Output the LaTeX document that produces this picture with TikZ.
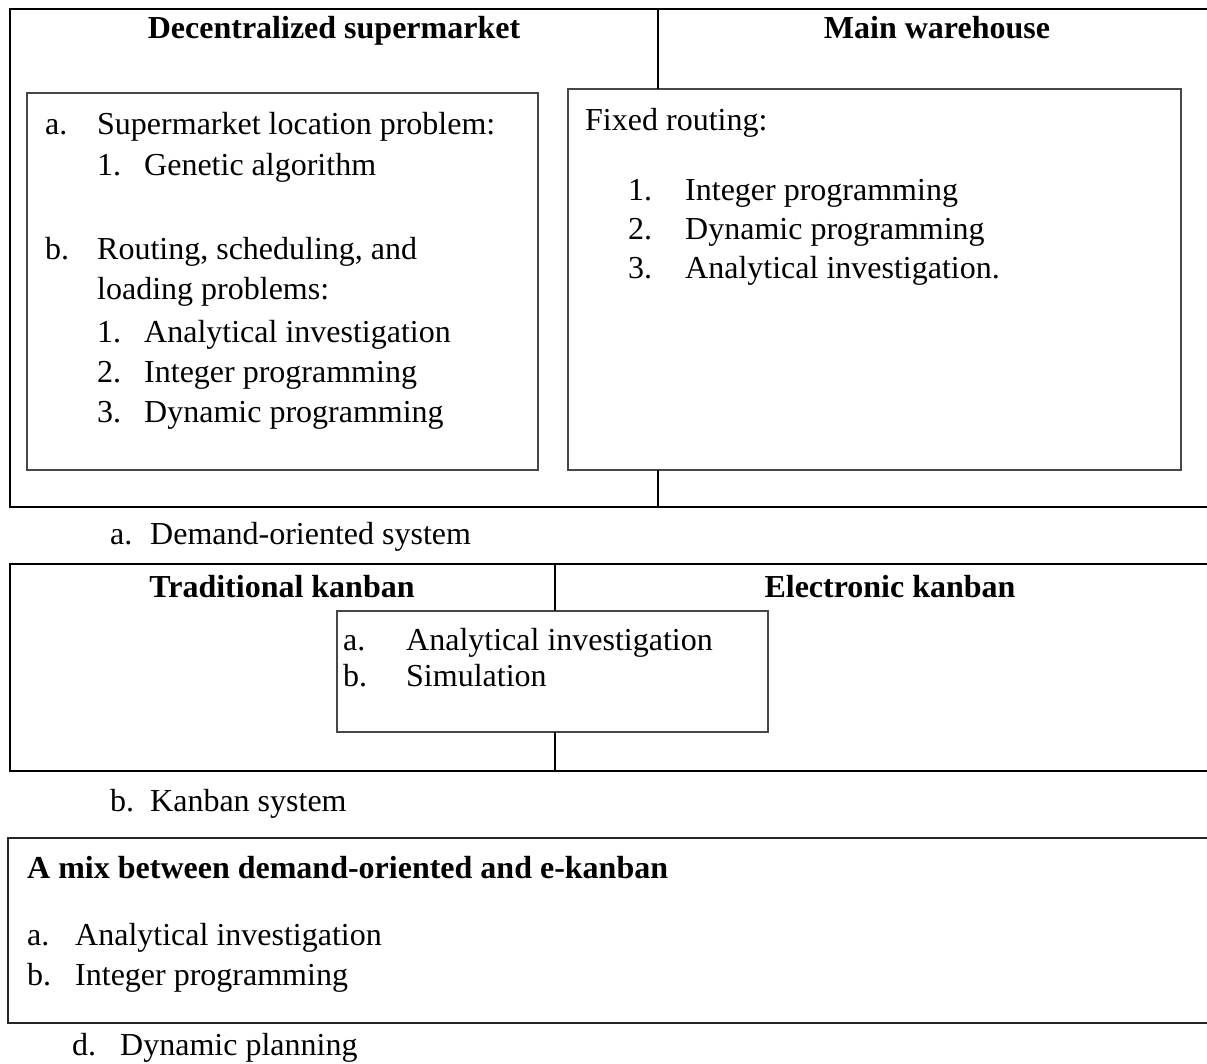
\documentclass[tikz,border=0pt]{standalone}
\usepackage{fontspec}
\setmainfont{Liberation Serif}
\begin{document}
\begin{tikzpicture}[x=1pt,y=-1pt,
  outer/.style={line width=2.4pt,black},
  innerbox/.style={line width=1.4pt,black!72},
  lowerbox/.style={line width=1.8pt,black!85},
  txt/.style={anchor=base west,inner sep=0pt,font=\fontsize{32}{38}\selectfont},
  head/.style={anchor=base,inner sep=0pt,font=\fontsize{32}{38}\selectfont\bfseries},
  headl/.style={anchor=base west,inner sep=0pt,font=\fontsize{32}{38}\selectfont\bfseries}]
\useasboundingbox (0,0) rectangle (1207,1064);
\clip (0,0) rectangle (1207,1064);

% ---------- demand-oriented system ----------
\draw[outer] (1220,9) -| (10,507) -- (1220,507);
\coordinate (dtop) at (658,9);
\coordinate (dbot) at (658,507);
\draw[innerbox] (27,93) rectangle (538,470);
\draw[innerbox] (568,89) rectangle (1181,470);
\coordinate (rtop) at (658,89);
\coordinate (rbot) at (658,470);
\draw[outer] (dtop) -- (rtop);
\draw[outer] (rbot) -- (dbot);

\node[head] (h1) at (334,39) {Decentralized supermarket};
\node[head] (h2) at (937,39) {Main warehouse};

\node[txt] (la) at (45,135) {a.};
\node[txt] (lat) at (97,135) {Supermarket location problem:};
\node[txt] (la1) at (97,176) {1.};
\node[txt] (la1t) at (144,176) {Genetic algorithm};
\node[txt] (lb) at (45,260) {b.};
\node[txt] (lbt) at (97,260) {Routing, scheduling, and};
\node[txt] (lbt2) at (97,300) {loading problems:};
\node[txt] (lb1) at (97,343) {1.};
\node[txt] (lb1t) at (144,343) {Analytical investigation};
\node[txt] (lb2) at (97,382) {2.};
\node[txt] (lb2t) at (144,382) {Integer programming};
\node[txt] (lb3) at (97,422) {3.};
\node[txt] (lb3t) at (144,422) {Dynamic programming};

\node[txt] (rf) at (585,131) {Fixed routing:};
\node[txt] (r1) at (628,201) {1.};
\node[txt] (r1t) at (685,201) {Integer programming};
\node[txt] (r2) at (628,240) {2.};
\node[txt] (r2t) at (685,240) {Dynamic programming};
\node[txt] (r3) at (628,279) {3.};
\node[txt] (r3t) at (685,279) {Analytical investigation.};

\node[txt] (ca) at (110,544) {a.};
\node[txt] (cat) at (150,544) {Demand-oriented system};

% ---------- kanban system ----------
\draw[outer] (1220,564) -| (10,771) -- (1220,771);
\draw[innerbox] (337,611) rectangle (768,732);
\coordinate (ktop) at (555,564);
\coordinate (kin1) at (555,611);
\coordinate (kin2) at (555,732);
\coordinate (kbot) at (555,771);
\draw[outer] (ktop) -- (kin1);
\draw[outer] (kin2) -- (kbot);

\node[head] (h3) at (282,597) {Traditional kanban};
\node[head] (h4) at (890,597) {Electronic kanban};

\node[txt] (ka) at (343,650) {a.};
\node[txt] (kat) at (406,650) {Analytical investigation};
\node[txt] (kb) at (343,686) {b.};
\node[txt] (kbt) at (406,686) {Simulation};

\node[txt] (cb) at (110,811) {b.};
\node[txt] (cbt) at (150,811) {Kanban system};

% ---------- mixed system ----------
\draw[lowerbox] (1220,838) -| (8,1023) -- (1220,1023);
\node[headl] (h5) at (27,878) {A mix between demand-oriented and e-kanban};
\node[txt] (ma) at (27,945) {a.};
\node[txt] (mat) at (75,945) {Analytical investigation};
\node[txt] (mb) at (27,985) {b.};
\node[txt] (mbt) at (75,985) {Integer programming};

\node[txt] (cd) at (72,1055) {d.};
\node[txt] (cdt) at (120,1055) {Dynamic planning};
\end{tikzpicture}
\end{document}
